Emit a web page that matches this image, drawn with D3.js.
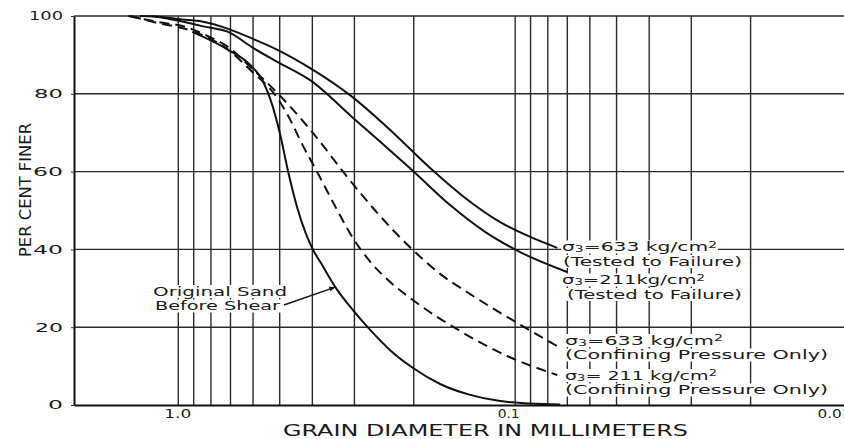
<!DOCTYPE html>
<html>
<head>
<meta charset="utf-8">
<script src="https://cdn.jsdelivr.net/npm/d3@7"></script>
<style>
  body { margin: 0; background: #fff; }
  text { font-family: "DejaVu Sans", sans-serif; fill: #1a1a1a; }
</style>
</head>
<body>
<div id="chart"></div>
<script>
// Curves: [grain diameter (mm), per cent finer]
var failure633 = [[1.3,100],[1.1,99.7],[1.0,99.2],[0.85,98.6],[0.711,96.7],[0.6,94.1],[0.508,91.3],[0.406,86.6],[0.3045,79.2],[0.235,70.7],[0.1788,60.9],[0.1407,53.2],[0.1108,47.0],[0.0902,43.2],[0.075,40.4]];
var failure211 = [[1.2,100],[1.0,98.8],[0.85,97.4],[0.711,95.9],[0.6,91.8],[0.508,88.2],[0.406,83.5],[0.3045,74],[0.1995,59.9],[0.156,51.4],[0.1228,44.5],[0.0966,39.3],[0.0701,34.2]];
var confining633 = [[1.41,100],[1.154,98.5],[0.953,97.2],[0.82,94.9],[0.711,92],[0.611,86.9],[0.508,80.2],[0.398,69.9],[0.315,58.6],[0.2567,49.4],[0.2009,39.8],[0.167,33.7],[0.1388,29.0],[0.0986,21.1],[0.0735,14.7]];
var confining211 = [[1.38,100],[1.154,98.2],[0.953,96.7],[0.82,94.5],[0.711,91.3],[0.611,86.1],[0.508,78.9],[0.465,73.3],[0.435,68.1],[0.387,59.9],[0.3375,50.1],[0.3045,43.2],[0.275,37.8],[0.235,31.6],[0.205,27.5],[0.1456,19.0],[0.1056,12.6],[0.075,7.7]];
var originalSand = [[0.909,95.9],[0.711,91.3],[0.611,87.4],[0.563,83.5],[0.526,77.1],[0.498,69.4],[0.4717,59.9],[0.443,50.6],[0.42,44.5],[0.3976,39.8],[0.379,36.8],[0.3375,29.6],[0.303,24.4],[0.2694,19.3],[0.235,14.1],[0.2009,9.5],[0.167,5.4],[0.136,2.6],[0.1108,1.0],[0.0902,0.4],[0.0735,0.1]];

// Grid and ticks
var gridDiameters = [1.0,0.9,0.8,0.7,0.6,0.5,0.4,0.3,0.2,0.1,0.09,0.08,0.07,0.06,0.05,0.04,0.03,0.02,0.01];
var xTickValues = [1.0, 0.1, 0.01];
var xTickLabels = ["1.0", "0.1", "0.01"];
var yTickValues = [0, 20, 40, 60, 80, 100];
var yGridValues = [20, 40, 60, 80, 100];

var svgWidth = 844;
var svgHeight = 439;

var svg = d3.select("#chart")
    .append("svg")
    .attr("width", svgWidth)
    .attr("height", svgHeight);

// Log scale, diameters decrease to the right
var x = d3.scaleLog().domain([2.04, 0.01]).range([74, 852]);
var y = d3.scaleLinear().domain([0, 100]).range([405, 16]);

svg.append("defs").append("marker")
    .attr("id", "arrow")
    .attr("viewBox", "0 0 10 10")
    .attr("refX", 10).attr("refY", 5)
    .attr("markerWidth", 9).attr("markerHeight", 6)
    .attr("markerUnits", "userSpaceOnUse")
    .attr("orient", "auto")
    .append("path")
    .attr("d", "M0,1 L10,5 L0,9 Z")
    .attr("fill", "#111");

// Grid lines
var grid = svg.append("g").attr("stroke", "#2a2a2a").attr("stroke-width", 1.4);
grid.selectAll("line.v")
    .data(gridDiameters)
    .enter()
    .append("line")
    .attr("x1", d => x(d)).attr("x2", d => x(d))
    .attr("y1", y(100)).attr("y2", y(0));
grid.selectAll("line.h")
    .data(yGridValues)
    .enter()
    .append("line")
    .attr("x1", x(2.04)).attr("x2", x(0.01))
    .attr("y1", d => y(d)).attr("y2", d => y(d));

// Axes
var bottomAxis = d3.axisBottom(x)
    .tickValues(xTickValues)
    .tickFormat((d, i) => xTickLabels[i])
    .tickSize(0)
    .tickSizeOuter(0)
    .tickPadding(5);
var leftAxis = d3.axisLeft(y)
    .tickValues(yTickValues)
    .tickSize(3)
    .tickSizeOuter(0)
    .tickPadding(8);

var xAxisG = svg.append("g")
    .attr("transform", `translate(0, ${y(0)})`)
    .call(bottomAxis);
xAxisG.select(".domain").attr("stroke", "#111").attr("stroke-width", 2.2);
var xLabelShift = [-1, -7, -18];
var xLabelLen = [27, 22, 34];
xAxisG.selectAll(".tick text")
    .attr("font-size", 11.5)
    .attr("font-family", "DejaVu Sans")
    .attr("fill", "#222")
    .attr("dx", (d, i) => xLabelShift[i])
    .attr("textLength", (d, i) => xLabelLen[i])
    .attr("lengthAdjust", "spacingAndGlyphs");

var yAxisG = svg.append("g")
    .attr("transform", `translate(${x(2.04)}, 0)`)
    .call(leftAxis);
yAxisG.select(".domain").attr("stroke", "#111").attr("stroke-width", 2);
yAxisG.selectAll(".tick line").attr("stroke", "#333");
var yLabelLen = {0: 15, 20: 28, 40: 30, 60: 30, 80: 29, 100: 34};
yAxisG.selectAll(".tick text")
    .attr("font-size", 12)
    .attr("font-family", "DejaVu Sans")
    .attr("fill", "#222")
    .attr("textLength", d => yLabelLen[d])
    .attr("lengthAdjust", "spacingAndGlyphs");

// Text with a white patch behind it (grid lines stop at lettering)
var labels = svg.append("g");
function addLabel(parts, px, py, len, size) {
    var t = labels.append("text")
        .attr("x", px).attr("y", py)
        .attr("font-size", size)
        .attr("textLength", len)
        .attr("lengthAdjust", "spacingAndGlyphs");
    parts.forEach(function(p) {
        var s = t.append("tspan").text(p.t);
        if (p.dy) s.attr("dy", p.dy);
        if (p.fs) s.attr("font-size", p.fs);
    });
    var b = t.node().getBBox();
    labels.insert("rect", function() { return t.node(); })
        .attr("x", b.x - 1).attr("y", py - 10.5)
        .attr("width", b.width + 2).attr("height", 13)
        .attr("fill", "#fff");
}
function sigma(value) {
    return [{t: "\u03c3"}, {t: "3", dy: 1, fs: 8.5}, {t: value, dy: -1}, {t: "2", dy: -3.5, fs: 8.5}, {t: "", dy: 3.5}];
}

addLabel(sigma("=633 kg/cm"), 562, 251, 155, 12.5);
addLabel([{t: "(Tested to Failure)"}], 563, 265.5, 179, 12.5);
addLabel(sigma("=211kg/cm"), 562, 284, 143, 12.5);
addLabel([{t: "(Tested to Failure)"}], 567, 298.5, 175, 12.5);
addLabel(sigma("=633 kg/cm"), 565, 344.5, 158, 12.5);
addLabel([{t: "(Confining Pressure Only)"}], 565, 359, 263, 12.5);
addLabel(sigma("= 211 kg/cm"), 565, 379.5, 152, 12.5);
addLabel([{t: "(Confining Pressure Only)"}], 565, 394, 263, 12.5);
addLabel([{t: "Original Sand"}], 153, 295.5, 134, 13);
addLabel([{t: "Before Shear"}], 155, 310, 125, 13);

// Curves
var line = d3.line()
    .x(d => x(d[0]))
    .y(d => y(d[1]))
    .curve(d3.curveMonotoneX);

var curves = [
    {data: failure633, dash: null},
    {data: failure211, dash: null},
    {data: confining633, dash: "10,6"},
    {data: confining211, dash: "10,6"},
    {data: originalSand, dash: null}
];
svg.append("g").selectAll("path")
    .data(curves)
    .enter()
    .append("path")
    .attr("d", d => line(d.data))
    .attr("fill", "none")
    .attr("stroke", "#111")
    .attr("stroke-width", 2)
    .attr("stroke-dasharray", d => d.dash);

// Arrow from label to the original sand curve
svg.append("line")
    .attr("x1", 284).attr("y1", 305)
    .attr("x2", x(0.342)).attr("y2", y(30.3))
    .attr("stroke", "#111")
    .attr("stroke-width", 1.4)
    .attr("marker-end", "url(#arrow)");

// Axis titles
svg.append("text")
    .attr("x", 283).attr("y", 435.5)
    .attr("font-size", 15)
    .attr("textLength", 405)
    .attr("lengthAdjust", "spacingAndGlyphs")
    .text("GRAIN DIAMETER IN MILLIMETERS");

svg.append("text")
    .attr("transform", "translate(31, 190) rotate(-90)")
    .attr("text-anchor", "middle")
    .attr("font-size", 15)
    .attr("textLength", 134)
    .attr("lengthAdjust", "spacingAndGlyphs")
    .text("PER CENT FINER");
</script>
</body>
</html>
